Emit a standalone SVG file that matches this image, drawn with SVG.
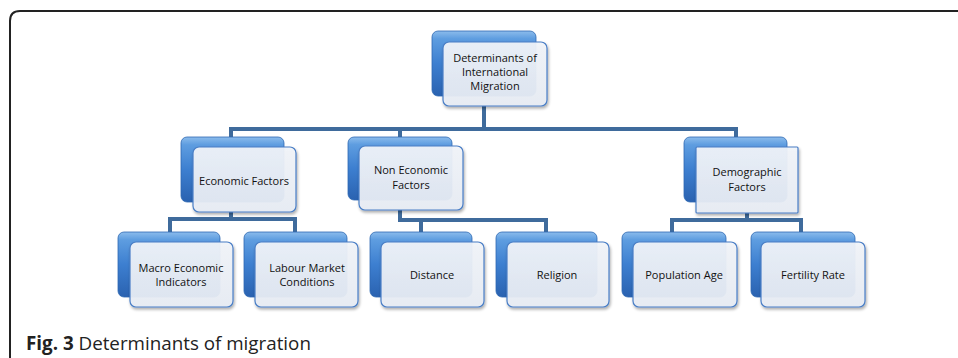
<svg xmlns="http://www.w3.org/2000/svg" width="958" height="358" viewBox="0 0 958 358">
<defs>
<linearGradient id="blueG" x1="0" y1="0" x2="0" y2="1">
<stop offset="0" stop-color="#8cbcec"/>
<stop offset="0.12" stop-color="#5e9de0"/>
<stop offset="0.5" stop-color="#3d7fd0"/>
<stop offset="1" stop-color="#2a62b0"/>
</linearGradient>
<linearGradient id="frontG" x1="0" y1="0" x2="0" y2="1">
<stop offset="0" stop-color="#f2f5fa"/>
<stop offset="1" stop-color="#e8edf5"/>
</linearGradient>
<filter id="sh" x="-10%" y="-10%" width="130%" height="130%">
<feGaussianBlur in="SourceAlpha" stdDeviation="1.5"/>
<feOffset dx="1" dy="2" result="b"/>
<feComponentTransfer><feFuncA type="linear" slope="0.35"/></feComponentTransfer>
<feMerge><feMergeNode/><feMergeNode in="SourceGraphic"/></feMerge>
</filter>
</defs>
<style>
.back{fill:url(#blueG);stroke:#2d68b3;stroke-width:0.8}
.front{fill:url(#frontG);fill-opacity:0.93;stroke:#4a7ec6;stroke-width:1.2;filter:url(#sh)}
.lbl{font-family:"Open Sans","Noto Sans",sans-serif;font-size:11px;fill:#111;text-anchor:middle}
.con{stroke:#3f6b9c;stroke-width:4;fill:none}
.cap{font-family:"Open Sans","Noto Sans",sans-serif;font-size:18.8px;fill:#222}
</style>
<rect width="958" height="358" fill="#fff"/>
<path d="M10 358 V21 Q10 11 20 11 H958" fill="none" stroke="#222" stroke-width="2"/>
<g id="connectors">
<path class="con" d="M484 106 V129 M229 129 H738 M231 129 V138 M400 129 V138 M736 129 V138"/>
<path class="con" d="M231 212 V219 M168 219 H297 M170 219 V233 M295 219 V233"/>
<path class="con" d="M400 210 V220 H548 M421 220 V233 M546 220 V233"/>
<path class="con" d="M747 213 V220 M670 220 H803 M672 220 V233 M801 220 V233"/>
</g>
<g id="n-top">
<rect class="back" x="432" y="31" width="104" height="65" rx="6"/>
<rect class="front" x="443" y="42" width="104" height="64" rx="6"/>
<text class="lbl" x="495" y="62">Determinants of</text>
<text class="lbl" x="495" y="76">International</text>
<text class="lbl" x="495" y="90">Migration</text>
</g>
<g id="n-econ">
<rect class="back" x="181" y="137" width="103" height="65" rx="6"/>
<rect class="front" x="193" y="147" width="103" height="65" rx="6"/>
<text class="lbl" x="244" y="185">Economic Factors</text>
</g>
<g id="n-nonecon">
<rect class="back" x="348" y="137" width="104" height="63" rx="6"/>
<rect class="front" x="359" y="146" width="104" height="64" rx="6"/>
<text class="lbl" x="411" y="174">Non Economic</text>
<text class="lbl" x="411" y="189">Factors</text>
</g>
<g id="n-demo">
<rect class="back" x="684" y="137" width="103" height="65" rx="6"/>
<rect class="front" x="696" y="147" width="102" height="66" rx="1"/>
<text class="lbl" x="747" y="176">Demographic</text>
<text class="lbl" x="747" y="191">Factors</text>
</g>
<g id="n-macro">
<rect class="back" x="118" y="232" width="102" height="65" rx="6"/>
<rect class="front" x="130" y="242" width="103" height="65" rx="6"/>
<text class="lbl" x="181" y="272">Macro Economic</text>
<text class="lbl" x="181" y="286">Indicators</text>
</g>
<g id="n-labour">
<rect class="back" x="244" y="232" width="103" height="65" rx="6"/>
<rect class="front" x="255" y="242" width="103" height="65" rx="6"/>
<text class="lbl" x="307" y="272">Labour Market</text>
<text class="lbl" x="307" y="286">Conditions</text>
</g>
<g id="n-distance">
<rect class="back" x="370" y="232" width="102" height="65" rx="6"/>
<rect class="front" x="381" y="242" width="103" height="65" rx="6"/>
<text class="lbl" x="432" y="279">Distance</text>
</g>
<g id="n-religion">
<rect class="back" x="496" y="232" width="101" height="65" rx="6"/>
<rect class="front" x="507" y="242" width="102" height="65" rx="6"/>
<text class="lbl" x="557" y="279">Religion</text>
</g>
<g id="n-popage">
<rect class="back" x="622" y="232" width="104" height="65" rx="6"/>
<rect class="front" x="633" y="242" width="104" height="65" rx="6"/>
<text class="lbl" x="684" y="279">Population Age</text>
</g>
<g id="n-fert">
<rect class="back" x="751" y="232" width="104" height="65" rx="6"/>
<rect class="front" x="761" y="242" width="104" height="65" rx="6"/>
<text class="lbl" x="813" y="279">Fertility Rate</text>
</g>
<text class="cap" x="26" y="350"><tspan font-weight="bold">Fig. 3</tspan> Determinants of migration</text>
</svg>
